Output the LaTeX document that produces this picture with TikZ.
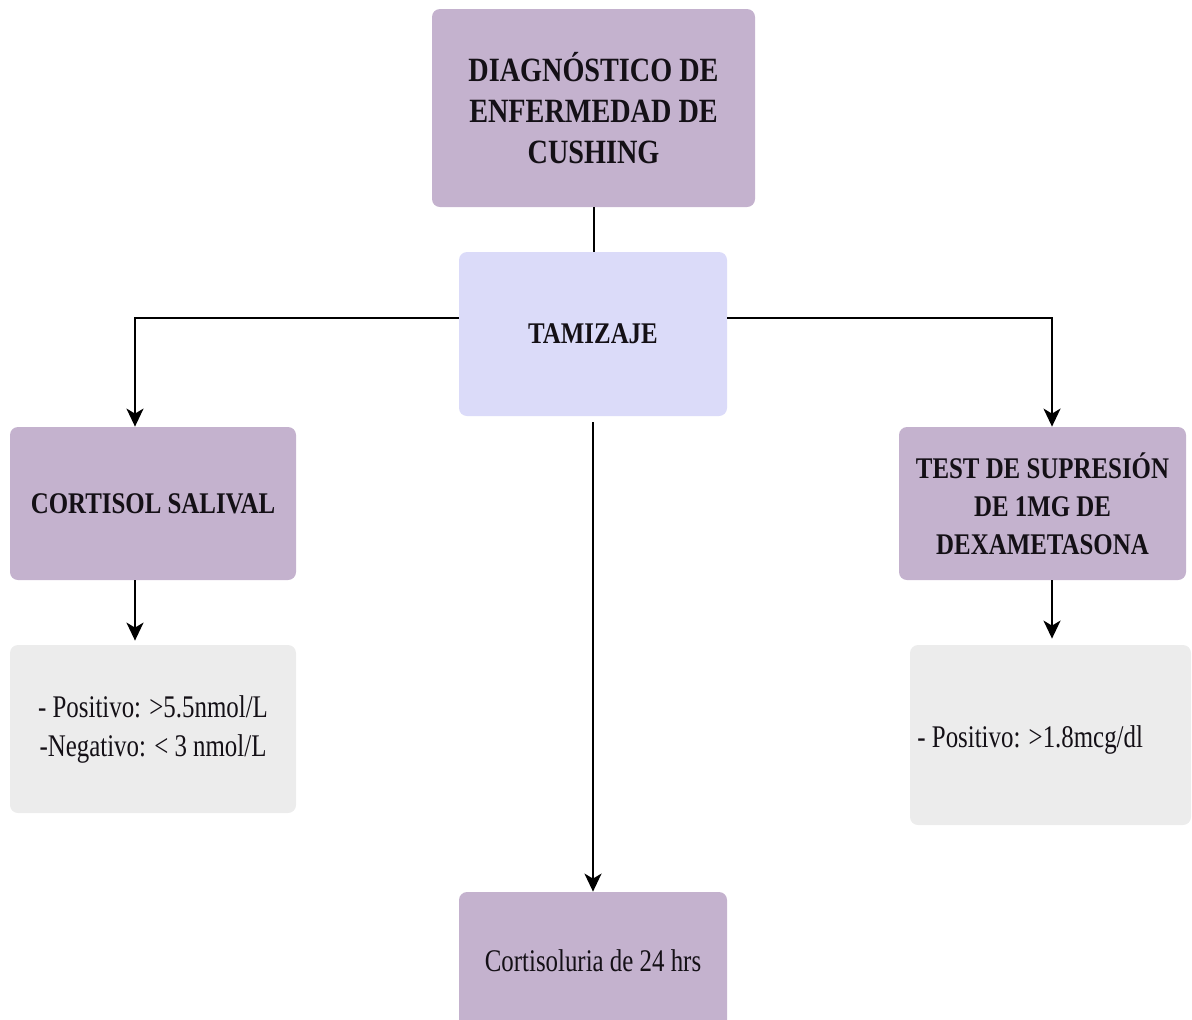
\documentclass[tikz,border=0pt]{standalone}
\usepackage{fontspec}
\setmainfont{Liberation Serif}
\newfontfamily\hdfont[FakeStretch=0.83]{Liberation Serif}
\newfontfamily\bodyfont[FakeStretch=0.79]{Liberation Serif}
\usetikzlibrary{arrows.meta}
\definecolor{mauve}{RGB}{196,178,206}
\definecolor{lavender}{RGB}{219,219,249}
\definecolor{pale}{RGB}{236,236,236}
\definecolor{ink}{RGB}{20,16,22}
\begin{document}
\begin{tikzpicture}[x=0.5pt,y=-0.5pt,
  box/.style={rounded corners=4pt, inner sep=0pt, align=center, text=ink},
  headbox/.style={box, fill=mauve, font=\hdfont\bfseries\fontsize{15pt}{19pt}\selectfont},
  bodytext/.style={font=\bodyfont\fontsize{15.75pt}{19.5pt}\selectfont},
  notebox/.style={box, fill=pale, bodytext},
  link/.style={line width=1pt, draw=black},
  arr/.style={link, -{Stealth[length=9pt,width=8.5pt,inset=2.5pt]}}]
\useasboundingbox (0,0) rectangle (1192,1019);

% boxes
\node[headbox, minimum width=161.5pt, minimum height=99pt,
      font=\hdfont\bfseries\fontsize{17pt}{20.5pt}\selectfont] (diag) at (593.5,108)
  {DIAGNÓSTICO DE\\ENFERMEDAD DE\\CUSHING};
\node[box, fill=lavender, minimum width=134pt, minimum height=82pt,
      font=\hdfont\bfseries\fontsize{15pt}{19pt}\selectfont] (tam) at (593,334) {TAMIZAJE};
\node[headbox, minimum width=143pt, minimum height=76.5pt] (cort) at (153,503.5)
  {CORTISOL SALIVAL};
\node[headbox, minimum width=143.5pt, minimum height=76.5pt] (test) at (1042.5,503.5)
  {TEST DE SUPRESIÓN\\DE 1MG DE\\DEXAMETASONA};
\node[notebox, minimum width=143pt, minimum height=84pt] (resL) at (153,729)
  {- Positivo: >5.5nmol/L\\-Negativo: < 3 nmol/L};
\node[notebox, minimum width=140.5pt, minimum height=90pt] (resR) at (1050.5,735) {};
\node[anchor=west, inner sep=0pt, text=ink, bodytext]
  (resRtxt) at (917,740) {- Positivo: >1.8mcg/dl};
\node[box, fill=mauve, minimum width=134pt, minimum height=69pt, bodytext]
  (uri) at (593,961) {Cortisoluria de 24 hrs};

% branch guides
\coordinate (hy) at (0,318);
\coordinate (xl) at (135,0);
\coordinate (xr) at (1052,0);
\coordinate (xc) at (593,0);

% connectors
\draw[link] (diag.south) -- (diag.south |- tam.north);
\draw[arr] (tam.west |- hy) -| (cort.north -| xl);
\draw[arr] (tam.east |- hy) -| (test.north -| xr);
\draw[arr] (cort.south -| xl) -- ([yshift=2pt]resL.north -| xl);
\draw[arr] (test.south -| xr) -- ([yshift=3pt]resR.north -| xr);
\draw[arr, shorten <=3pt] (tam.south -| xc) -- (uri.north -| xc);
\end{tikzpicture}
\end{document}
